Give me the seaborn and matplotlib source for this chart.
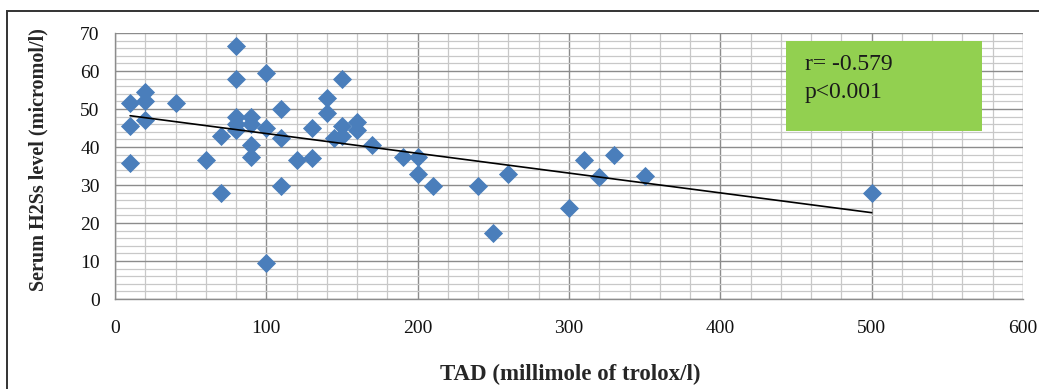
import numpy as np
import pandas as pd
import matplotlib
matplotlib.use("Agg")
import matplotlib.pyplot as plt
import seaborn as sns
from matplotlib.patches import Rectangle
from matplotlib.ticker import MultipleLocator

# ---- data ----
tad = [10, 10, 10, 20, 20, 20, 40, 60, 70, 70,
       80, 80, 80, 80, 80, 90, 90, 90, 90,
       100, 100, 100, 110, 110, 110, 120, 130, 130,
       140, 140, 145, 150, 150, 150, 160, 160, 170,
       190, 200, 200, 210, 240, 250, 260, 300, 310, 320, 330, 350, 500]
h2s = [51.5, 45.5, 35.8, 54.5, 52, 47, 51.5, 36.5, 43, 28,
       66.5, 58, 48, 44.5, 46, 48, 46, 40.5, 37.5,
       59.5, 45, 9.5, 50, 42.5, 29.7, 36.5, 45, 37,
       53, 49, 42.5, 58, 45.5, 43, 46.5, 44.5, 40.5,
       37.5, 37.5, 33, 29.7, 29.7, 17.5, 33, 24, 36.5, 32.2, 38, 32.5, 28]
stat_lines = ["r= -0.579", "p<0.001"]
x_label = "TAD (millimole of trolox/l)"
y_label = "Serum H2Ss level (micromol/l)"

df = pd.DataFrame({"TAD": tad, "H2S": h2s})

sns.set_style("white")
plt.rcParams["font.family"] = ["Liberation Serif", "DejaVu Serif"]

fig = plt.figure(figsize=(10.39, 3.89), dpi=100)
ax = fig.add_axes([115/1039, 1 - 299/389, (1023 - 115)/1039, (299 - 33)/389])

ax.set_xlim(0, 600)
ax.set_ylim(0, 70)
ax.xaxis.set_major_locator(MultipleLocator(100))
ax.xaxis.set_minor_locator(MultipleLocator(20))
ax.yaxis.set_major_locator(MultipleLocator(10))
ax.yaxis.set_minor_locator(MultipleLocator(2))
ax.grid(which="major", color="#8c8c8c", linewidth=1.0)
ax.grid(which="minor", color="#c8c8c8", linewidth=0.9)
ax.set_axisbelow(True)

sns.regplot(data=df, x="TAD", y="H2S", ax=ax, ci=None, truncate=True,
            marker="D",
            scatter_kws=dict(s=95, color="#4a7ebb", linewidths=0, zorder=3, alpha=1),
            line_kws=dict(color="black", linewidth=1.2, zorder=4))

ax.set_xlim(0, 600)
ax.set_ylim(0, 70)

for s in ["top", "right"]:
    ax.spines[s].set_visible(False)
for s in ["left", "bottom"]:
    ax.spines[s].set_color("#8c8c8c")
    ax.spines[s].set_linewidth(1.0)

ax.tick_params(which="major", direction="out", length=6, width=1, color="#8c8c8c",
               labelsize=14, labelcolor="#111111", pad=5)
ax.tick_params(axis="x", which="major", pad=9)
ax.tick_params(which="minor", length=0)

ax.set_xlabel(x_label, fontsize=16.5, fontweight="bold")
ax.set_ylabel(y_label, fontsize=14.5, fontweight="bold")
ax.xaxis.set_label_coords(0.501, -0.245)
ax.yaxis.set_label_coords(-0.073, 0.525)

# green stats box
ax.add_patch(Rectangle((443.5, 44.2), 129.5, 23.7, facecolor="#92d050",
                       edgecolor="none", zorder=5))
ax.text(456, 61.8, stat_lines[0], fontsize=17, va="center", ha="left",
        zorder=6, color="#1a1a1a")
ax.text(456, 54.4, stat_lines[1], fontsize=17, va="center", ha="left",
        zorder=6, color="#1a1a1a")

# outer chart border (open to the right, as in the reference crop)
fig.patches.append(Rectangle((7/1039, -0.02), 1.1, 1 - 11/389 + 0.02,
                             transform=fig.transFigure, fill=False,
                             edgecolor="#333333", linewidth=1.4))

fig.savefig("out.png", dpi=100, facecolor="white")
